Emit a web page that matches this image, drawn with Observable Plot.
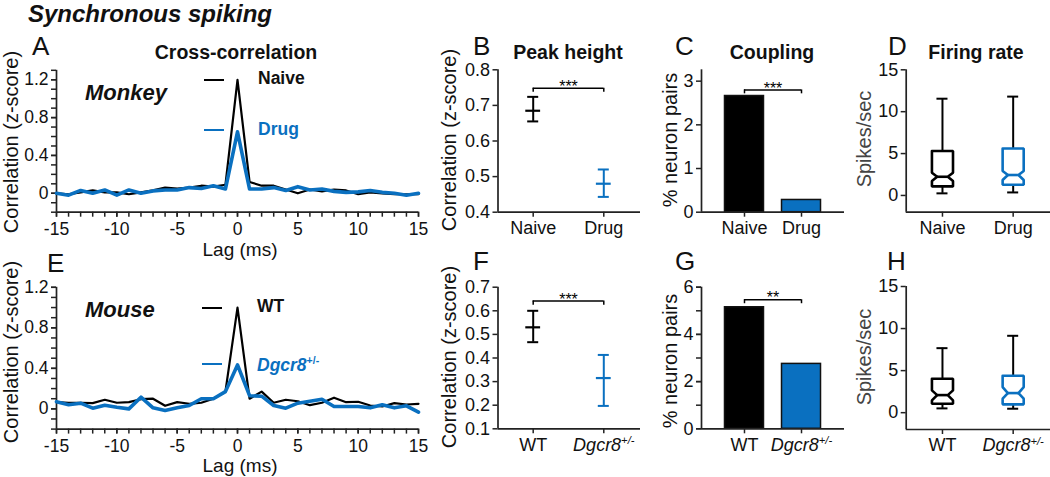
<!DOCTYPE html>
<html><head><meta charset="utf-8">
<script src="https://cdn.jsdelivr.net/npm/d3@7"></script>
<script src="https://cdn.jsdelivr.net/npm/@observablehq/plot@0.6"></script>
<style>
body{margin:0;background:#fff;}
#root{position:relative;width:1050px;height:477px;overflow:hidden;font-family:"Liberation Sans",Arial,sans-serif;color:#111;background:#fff;}
.t{position:absolute;white-space:nowrap;line-height:1;}
svg{overflow:visible}
</style></head><body><div id="root"></div><script>
// ---------- data ----------
const lags = d3.range(-15, 16);
const naiveCC = [0.00,-0.01,0.01,0.03,0.01,0.01,-0.01,0.01,0.03,0.06,0.05,0.06,0.08,0.07,0.09, 1.20, 0.12,0.08,0.08,0.04,0.00,0.04,0.02,0.04,0.03,-0.01,0.01,0.00,-0.01,-0.01,-0.01];
const drugCC  = [0.00,-0.02,0.03,0.00,0.035,-0.02,0.035,0.00,0.025,0.035,0.035,0.06,0.05,0.08,0.045, 0.65, 0.045,0.045,0.06,0.03,0.07,0.035,0.045,0.02,0.01,0.015,0.03,0.01,0.00,-0.02,0.00];
const wtCC    = [0.066,0.06,0.06,0.056,0.09,0.06,0.066,0.095,0.10,0.03,0.066,0.05,0.06,0.10,0.17, 1.00, 0.10,0.17,0.06,0.09,0.075,0.036,0.06,0.11,0.066,0.07,0.033,0.023,0.056,0.043,0.05];
const dgcrCC  = [0.07,0.04,0.056,0.007,0.036,0.016,0.00,0.115,0.01,-0.016,0.01,0.033,0.10,0.10,0.17, 0.434, 0.13,0.125,0.033,0.007,0.056,0.075,0.095,0.023,0.023,0.023,0.01,0.04,0.01,0.03,-0.033];

const monkeyGroups = ["Naive", "Drug"];
const mouseGroups = ["WT", "Dgcr8+/-"];
const groupColors = ["#000000", "#0a70c0"];

const peakMeanMonkey = [0.685, 0.480];
const peakHiMonkey   = [0.724, 0.520];
const peakLoMonkey   = [0.655, 0.443];
const peakMeanMouse  = [0.530, 0.315];
const peakHiMouse    = [0.600, 0.413];
const peakLoMouse    = [0.467, 0.197];

const couplingMonkey = [2.66, 0.28];
const couplingMouse  = [5.15, 2.75];

// firing-rate box stats: min, q1, notch low, median, notch high, q3, max
const rateMonkey = [
  {min:0.25, q1:1.08, nLo:1.72, med:2.23, nHi:2.71, q3:5.30, max:11.55},
  {min:0.36, q1:1.28, nLo:1.84, med:2.44, nHi:2.92, q3:5.60, max:11.80}
];
const rateMouse = [
  {min:0.51, q1:1.07, nLo:1.46, med:2.09, nHi:2.65, q3:4.04, max:7.67},
  {min:0.47, q1:0.99, nLo:1.66, med:2.33, nHi:3.04, q3:4.39, max:9.14}
];
const sigMonkeyPeak = {y: 0.748, drop: 0.011, label: "***"};
const sigMousePeak  = {y: 0.641, drop: 0.017, label: "***"};
const sigMonkeyCoup = {y: 2.80, drop: 0.09, label: "***"};
const sigMouseCoup  = {y: 5.47, drop: 0.17, label: "**"};

// ---------- helpers ----------
const root = document.getElementById("root");
const AX = "#222";
const fmt = d => String(+d.toFixed(2));
function txt(html, x, base, o = {}) {
  const fs = o.size || 17;
  const d = document.createElement("div");
  d.className = "t";
  d.innerHTML = html;
  d.style.fontSize = fs + "px";
  d.style.top = (base - 0.8465 * fs) + "px";
  d.style.left = x + "px";
  if (o.anchor === "middle") d.style.transform = "translateX(-50%)";
  if (o.bold) d.style.fontWeight = "bold";
  if (o.italic) d.style.fontStyle = "italic";
  if (o.color) d.style.color = o.color;
  root.appendChild(d);
}
function vlabel(text, cx, cy, o = {}) {
  const fs = o.size || 20;
  const d = document.createElement("div");
  d.className = "t";
  d.textContent = text;
  d.style.fontSize = fs + "px";
  d.style.left = cx + "px";
  d.style.top = cy + "px";
  d.style.transform = "translate(-50%,-50%) rotate(-90deg)";
  if (o.color) d.style.color = o.color;
  root.appendChild(d);
}
function seg(x1, x2, y, color, w) {
  const d = document.createElement("div");
  d.style.position = "absolute";
  d.style.left = x1 + "px"; d.style.width = (x2 - x1) + "px";
  d.style.top = (y - w / 2) + "px"; d.style.height = w + "px";
  d.style.background = color;
  root.appendChild(d);
}
function axes({xdom, ydom, xMajor, xMinor, yMajor, yMinor, xFmt = fmt, xPad = 4}) {
  const m = [
    Plot.ruleX([xdom[0]], {stroke: AX, strokeWidth: 1.7}),
    Plot.ruleY([ydom[0]], {stroke: AX, strokeWidth: 1.7})
  ];
  if (yMinor) m.push(Plot.axisY({ticks: yMinor, tickFormat: () => "", tickSize: 5, strokeWidth: 1.5, stroke: AX, label: null}));
  m.push(Plot.axisY({ticks: yMajor, tickFormat: fmt, tickSize: 5, tickPadding: 3, strokeWidth: 1.5, stroke: AX, label: null}));
  if (xMinor) m.push(Plot.axisX({ticks: xMinor, tickFormat: () => "", tickSize: 5, strokeWidth: 1.5, stroke: AX, label: null}));
  m.push(Plot.axisX({ticks: xMajor, tickFormat: xFmt, tickSize: 5, tickPadding: xPad, strokeWidth: 1.5, stroke: AX, label: null}));
  return m;
}
function mk({box: [L, T, W, H], area: [x0, x1, y0, y1], xdom, ydom, marks, fontSize = 18}) {
  const p = Plot.plot({
    width: W, height: H,
    marginLeft: x0 - L, marginRight: L + W - x1, marginTop: y0 - T, marginBottom: T + H - y1,
    x: {domain: xdom, axis: null, label: null},
    y: {domain: ydom, axis: null, label: null},
    style: {fontFamily: "'Liberation Sans', Arial, sans-serif", fontSize: fontSize + "px", color: "#111", background: "transparent", overflow: "visible"},
    marks
  });
  p.style.position = "absolute"; p.style.left = L + "px"; p.style.top = T + "px";
  root.appendChild(p);
  // italic gene name with superscript in tick labels
  d3.select(p).selectAll("text").each(function () {
    if (this.textContent === "Dgcr8+/-") {
      const s = d3.select(this); s.text("");
      s.append("tspan").attr("font-style", "italic").text("Dgcr8");
      s.append("tspan").attr("font-style", "italic").attr("font-size", "0.62em").attr("dy", "-0.55em").text("+/-");
    }
  });
  return p;
}
function ccMarks(a, b) {
  return [
    Plot.line(lags, {x: d => d, y: (d, i) => a[i], stroke: "#000", strokeWidth: 2.2, strokeLinejoin: "round"}),
    Plot.line(lags, {x: d => d, y: (d, i) => b[i], stroke: groupColors[1], strokeWidth: 3.6, strokeLinejoin: "round"})
  ];
}
const idx = [0, 1];
function errMarks(mean, hi, lo, sig) {
  const cap = 0.078, mw = 0.105;
  return [
    Plot.ruleX(idx, {x: i => i, y1: i => lo[i], y2: i => hi[i], stroke: i => groupColors[i], strokeWidth: 2}),
    Plot.ruleY(idx, {x1: i => i - cap, x2: i => i + cap, y: i => hi[i], stroke: i => groupColors[i], strokeWidth: 2}),
    Plot.ruleY(idx, {x1: i => i - cap, x2: i => i + cap, y: i => lo[i], stroke: i => groupColors[i], strokeWidth: 2}),
    Plot.ruleY(idx, {x1: i => i - mw, x2: i => i + mw, y: i => mean[i], stroke: i => groupColors[i], strokeWidth: 2.2}),
    ...sigMarks(sig)
  ];
}
function sigMarks(sig) {
  return [
    Plot.ruleY([sig], {x1: 0, x2: 1, y: "y", stroke: "#000", strokeWidth: 1.5}),
    Plot.ruleX(idx, {x: i => i, y1: sig.y, y2: sig.y - sig.drop, stroke: "#000", strokeWidth: 1.5}),
    Plot.text([sig], {x: 0.5, y: "y", text: "label", dy: -1.5, fontSize: 16, fill: "#000"})
  ];
}
function barMarks(vals, sig) {
  const hw = 0.342;
  return [
    Plot.rectY(idx, {x1: i => i - hw, x2: i => i + hw, y1: 0, y2: i => vals[i], fill: i => groupColors[i], stroke: "#111", strokeWidth: 1.5}),
    ...sigMarks(sig)
  ];
}
function boxMarks(stats) {
  const bw = 0.149, nw = 0.075, cw = 0.078;
  const pts = [];
  stats.forEach((s, i) => {
    [[i - bw, s.q3], [i + bw, s.q3], [i + bw, s.nHi], [i + nw, s.med], [i + bw, s.nLo], [i + bw, s.q1],
     [i - bw, s.q1], [i - bw, s.nLo], [i - nw, s.med], [i - bw, s.nHi], [i - bw, s.q3]]
      .forEach(([x, y]) => pts.push({g: i, x, y}));
  });
  return [
    Plot.ruleX(stats, {x: (d, i) => i, y1: "q3", y2: "max", stroke: "#000", strokeWidth: 2}),
    Plot.ruleX(stats, {x: (d, i) => i, y1: "min", y2: "q1", stroke: "#000", strokeWidth: 2}),
    Plot.ruleY(stats, {x1: (d, i) => i - cw, x2: (d, i) => i + cw, y: "max", stroke: "#000", strokeWidth: 2}),
    Plot.ruleY(stats, {x1: (d, i) => i - cw, x2: (d, i) => i + cw, y: "min", stroke: "#000", strokeWidth: 2}),
    Plot.line(pts, {x: "x", y: "y", z: "g", stroke: d => groupColors[d.g], strokeWidth: 2.6, strokeLinejoin: "miter"}),
    Plot.ruleY(stats, {x1: (d, i) => i - nw, x2: (d, i) => i + nw, y: "med", stroke: (d, i) => groupColors[i], strokeWidth: 2.6})
  ];
}

// ---------- panels ----------
const xMajorLag = [-15, -10, -5, 0, 5, 10, 15];
// A
mk({box: [0, 40, 440, 225], area: [56, 418, 69.8, 211.7], xdom: [-15, 15], ydom: [-0.2, 1.3], fontSize: 17.5,
  marks: [...axes({xdom: [-15, 15], ydom: [-0.2, 1.3], xMajor: xMajorLag, xMinor: lags, xPad: 5,
    yMajor: [0, 0.4, 0.8, 1.2], yMinor: d3.range(-2, 14).map(d => d / 10)}), ...ccMarks(naiveCC, drugCC)]});
// E
mk({box: [0, 255, 440, 222], area: [56, 418, 286.8, 428.6], xdom: [-15, 15], ydom: [-0.2, 1.2], fontSize: 17.5,
  marks: [...axes({xdom: [-15, 15], ydom: [-0.2, 1.2], xMajor: xMajorLag, xMinor: lags, xPad: 5,
    yMajor: [0, 0.4, 0.8, 1.2], yMinor: d3.range(-2, 13).map(d => d / 10)}), ...ccMarks(wtCC, dgcrCC)]});
// B
const xdB = [-0.4986, 1.52];
mk({box: [440, 40, 200, 225], area: [497.5, 640, 69.3, 211.7], xdom: xdB, ydom: [0.4, 0.8],
  marks: [...axes({xdom: xdB, ydom: [0.4, 0.8], xMajor: idx, xFmt: i => monkeyGroups[i],
    yMajor: [0.4, 0.5, 0.6, 0.7, 0.8]}), ...errMarks(peakMeanMonkey, peakHiMonkey, peakLoMonkey, sigMonkeyPeak)]});
// F
mk({box: [440, 255, 200, 222], area: [497.5, 640, 286.7, 428.3], xdom: xdB, ydom: [0.1, 0.7],
  marks: [...axes({xdom: xdB, ydom: [0.1, 0.7], xMajor: idx, xFmt: i => mouseGroups[i],
    yMajor: [0.1, 0.2, 0.3, 0.4, 0.5, 0.6, 0.7]}), ...errMarks(peakMeanMouse, peakHiMouse, peakLoMouse, sigMousePeak)]});
// C
const xdC = [-0.754, 1.754];
mk({box: [640, 40, 205, 225], area: [701, 844, 69.3, 211.7], xdom: xdC, ydom: [0, 3.26],
  marks: [...barMarks(couplingMonkey, sigMonkeyCoup), ...axes({xdom: xdC, ydom: [0, 3.26], xMajor: idx, xFmt: i => monkeyGroups[i],
    yMajor: [0, 1, 2, 3]})]});
// G
mk({box: [640, 255, 205, 222], area: [701, 844, 286.7, 428.3], xdom: xdC, ydom: [0, 6],
  marks: [...barMarks(couplingMouse, sigMouseCoup), ...axes({xdom: xdC, ydom: [0, 6], xMajor: idx, xFmt: i => mouseGroups[i],
    yMajor: [0, 2, 4, 6], yMinor: [0, 1, 2, 3, 4, 5, 6]})]});
// D
const xdD = [-0.513, 1.528];
mk({box: [845, 40, 205, 225], area: [905.7, 1050, 69.3, 211.7], xdom: xdD, ydom: [-2, 15],
  marks: [...axes({xdom: xdD, ydom: [-2, 15], xMajor: idx, xFmt: i => monkeyGroups[i],
    yMajor: [0, 5, 10, 15]}), ...boxMarks(rateMonkey)]});
// H
mk({box: [845, 255, 205, 222], area: [905.7, 1050, 286, 429], xdom: xdD, ydom: [-2, 15],
  marks: [...axes({xdom: xdD, ydom: [-2, 15], xMajor: idx, xFmt: i => mouseGroups[i],
    yMajor: [0, 5, 10, 15]}), ...boxMarks(rateMouse)]});

// ---------- text ----------
txt("Synchronous spiking", 28, 22.5, {size: 24, bold: true, italic: true});
[["A", 32, 55], ["B", 473, 55], ["C", 675, 55], ["D", 888, 55],
 ["E", 47, 272], ["F", 473, 270], ["G", 675, 270], ["H", 887, 270]]
  .forEach(([s, x, b]) => txt(s, x, b, {size: 26}));
txt("Cross-correlation", 236, 60, {size: 19.5, bold: true, anchor: "middle"});
txt("Peak height", 568, 60, {size: 19.5, bold: true, anchor: "middle"});
txt("Coupling", 772, 60, {size: 19.5, bold: true, anchor: "middle"});
txt("Firing rate", 976, 60, {size: 19.5, bold: true, anchor: "middle"});
txt("Monkey", 85, 101, {size: 22, bold: true, italic: true});
txt("Mouse", 85, 318, {size: 22, bold: true, italic: true});
seg(204, 224, 80, "#000", 2.5); txt("Naive", 258, 85, {size: 17.5, bold: true});
seg(204, 224, 130, groupColors[1], 2.5); txt("Drug", 258, 136, {size: 17.5, bold: true, color: groupColors[1]});
seg(202, 222, 308, "#000", 2.5); txt("WT", 257, 313, {size: 17.5, bold: true});
seg(202, 222, 364, groupColors[1], 2.5); txt("<i>Dgcr8</i><sup style='font-size:0.6em'>+/-</sup>", 257, 370, {size: 17.5, bold: true, color: groupColors[1]});
txt("Lag (ms)", 240, 256.5, {size: 19, anchor: "middle"});
txt("Lag (ms)", 240, 472.5, {size: 19, anchor: "middle"});
vlabel("Correlation (z-score)", 11, 142);
vlabel("Correlation (z-score)", 11, 352);
vlabel("Correlation (z-score)", 449, 140);
vlabel("Correlation (z-score)", 449, 357);
vlabel("% neuron pairs", 670, 140);
vlabel("% neuron pairs", 670, 361);
vlabel("Spikes/sec", 864, 139, {color: "#444"});
vlabel("Spikes/sec", 864, 357, {color: "#444"});
</script></body></html>
